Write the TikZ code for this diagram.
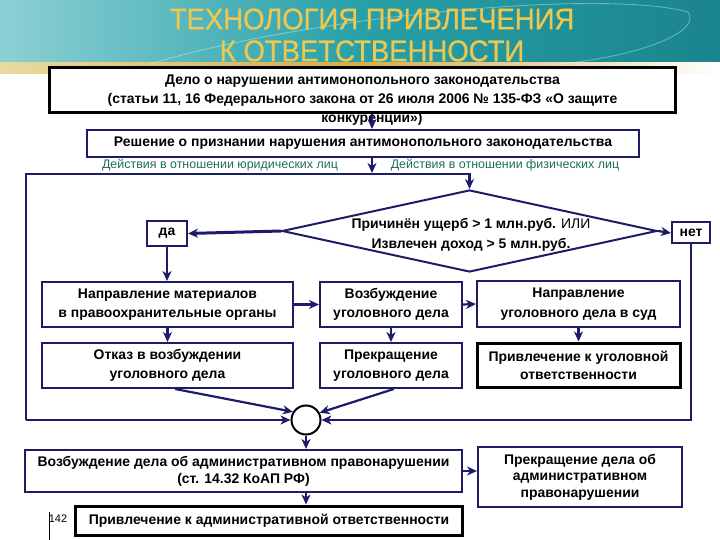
\documentclass[tikz,border=0pt]{standalone}
\usepackage{fontspec}
\setmainfont{Liberation Sans}
\newfontfamily\mytitlefont[FakeBold=0.6, FakeStretch=0.92]{Liberation Sans}
\usetikzlibrary{arrows.meta,shapes.geometric}
\definecolor{navy}{RGB}{28,28,104}
\definecolor{lblteal}{RGB}{30,110,96}
\definecolor{titlegold}{RGB}{236,200,80}
\definecolor{tealA}{RGB}{140,208,212}
\definecolor{tealB}{RGB}{40,160,168}
\definecolor{tealC}{RGB}{26,132,140}
\definecolor{goldA}{RGB}{232,218,160}
\definecolor{goldB}{RGB}{214,172,70}
\newcommand\mybody{\fontsize{14}{19.5}\selectfont\bfseries}
\newcommand\mylbl{\fontsize{12.5}{14}\selectfont}
\tikzset{
  nbox/.style={draw=navy, line width=2bp, fill=white, inner sep=0pt, align=center, font=\mybody},
  kbox/.style={draw=black, line width=3bp, fill=white, inner sep=0pt, align=center, font=\mybody},
  plain/.style={inner sep=0pt, align=center, font=\mybody},
  lbl/.style={inner sep=0pt, text=lblteal, font=\mylbl},
  arr/.style={draw=navy, line width=2.2bp, -{Stealth[length=10bp,width=9bp,inset=3bp]}},
  arrthick/.style={arr, line width=3bp},
}
\begin{document}
\begin{tikzpicture}[x=1bp,y=-1bp]
\useasboundingbox (0,0) rectangle (720,540);
% banner
\shade[left color=tealA, right color=tealC, middle color=tealB] (0,0) rectangle (720,64);
\shade[left color=goldA, right color=white, middle color=goldB] (0,63) rectangle (720,74);
\draw[white, opacity=0.35, line width=0.9bp] (150,64) .. controls (300,18) and (600,-12) .. (688,12) .. controls (702,32) and (640,56) .. (560,64);
\node[inner sep=0pt, text=titlegold, font=\mytitlefont\fontsize{30}{32}\selectfont, align=center] (title) at (372,35) {ТЕХНОЛОГИЯ ПРИВЛЕЧЕНИЯ\\К ОТВЕТСТВЕННОСТИ};

% top boxes
\node[kbox, minimum width=625bp, minimum height=45bp] (box1) at (362.5,90.5)
  {Дело о нарушении антимонопольного законодательства\\(статьи 11, 16 Федерального закона от 26 июля 2006 № 135-ФЗ «О защите};
\node[plain] (box1c) at (372,119) {конкуренции»)};
\node[nbox, minimum width=552bp, minimum height=27bp] (box2) at (363,143.5)
  {Решение о признании нарушения антимонопольного законодательства};
\node[lbl] (lbl1) at (220,165) {Действия в отношении юридических лиц};
\node[lbl] (lbl2) at (505,165) {Действия в отношении физических лиц};

\coordinate (xa) at (372,0);
\coordinate (j1) at (372,173);
\coordinate (tl) at (26,174);
\coordinate (tr) at (469.5,174);
\coordinate (bl) at (26,420);

\draw[arr] (box1.south -| xa) -- (box2.north -| xa);
\draw[arr] (box2.south -| xa) -- (j1);

% decision
\node[shape=diamond, draw=navy, line width=2bp, fill=white, inner sep=0pt, minimum width=375bp, minimum height=82bp] (dia) at (469.5,231) {};
\node[plain] (diat) at (471,235) {Причинён ущерб > 1 млн.руб. {\mdseries ИЛИ}\\Извлечен доход > 5 млн.руб.};
\node[nbox, minimum width=40bp, minimum height=25bp] (da) at (167,233.5) {да};
\node[nbox, minimum width=38bp, minimum height=21bp] (net) at (691,233) {нет};

\draw[arr] (bl) -- (tl) -- (tr) -- (dia.north);
\draw[arrthick] (dia.west) -- (da.east);
\draw[arr] (dia.east) -- (net.west);

% middle boxes
\node[nbox, minimum width=251bp, minimum height=45bp] (A1) at (167.5,304.5) {Направление материалов\\в правоохранительные органы};
\node[nbox, minimum width=251bp, minimum height=45bp] (A2) at (167.5,365.5) {Отказ в возбуждении\\уголовного дела};
\node[nbox, minimum width=142bp, minimum height=45bp] (B1) at (391,304.5) {Возбуждение\\уголовного дела};
\node[nbox, minimum width=142bp, minimum height=45bp] (B2) at (391,365.5) {Прекращение\\уголовного дела};
\node[nbox, minimum width=203bp, minimum height=46bp] (C1) at (578.5,304) {Направление\\уголовного дела в суд};
\node[kbox, minimum width=203bp, minimum height=44bp, font=\fontsize{14}{18}\selectfont\bfseries] (C2) at (578.5,365) {Привлечение к уголовной\\ответственности};

\draw[arr] (da.south) -- (A1.north -| da.south);
\draw[arr] (A1.east) -- (B1.west);
\draw[arr] (B1.east) -- (C1.west);
\draw[arr] (A1.south) -- (A2.north);
\draw[arr] (B1.south) -- (B2.north);
\draw[arr] (C1.south) -- (C2.north);

% merge circle
\node[circle, draw=black, line width=2bp, fill=white, minimum size=29bp, inner sep=0pt] (circ) at (306,420) {};
\draw[arr] (bl) -- (circ.west);
\draw[arr] (net.south) |- (circ.east);
\draw[arr] (A2.-72) -- (circ.148);
\draw[arr] (B2.-83) -- (circ.28);

% bottom
\node[nbox, minimum width=437bp, minimum height=42bp, font=\fontsize{14}{17}\selectfont\bfseries] (adm) at (243.5,471) {Возбуждение дела об административном правонарушении\\(ст. 14.32 КоАП РФ)};
\node[nbox, minimum width=204bp, minimum height=60bp, font=\fontsize{14}{16.5}\selectfont\bfseries] (stop) at (580,477) {Прекращение дела об\\административном\\правонарушении};
\node[kbox, minimum width=386bp, minimum height=29bp] (fin) at (269,520.5) {Привлечение к административной ответственности};

\draw[arr] (circ.south) -- (circ.south |- adm.north);
\draw[arr] (adm.east) -- (adm.east -| stop.west);
\draw[arr] (adm.south -| circ.south) -- (fin.north -| circ.south);

% page number
\node[inner sep=0pt, font=\fontsize{11}{13}\selectfont] (pg) at (58,519) {142};
\coordinate (pgt) at (49,512);
\coordinate (pgb) at (49,540);
\draw[black, line width=0.8bp] (pgt) -- (pgb);
\end{tikzpicture}
\end{document}
